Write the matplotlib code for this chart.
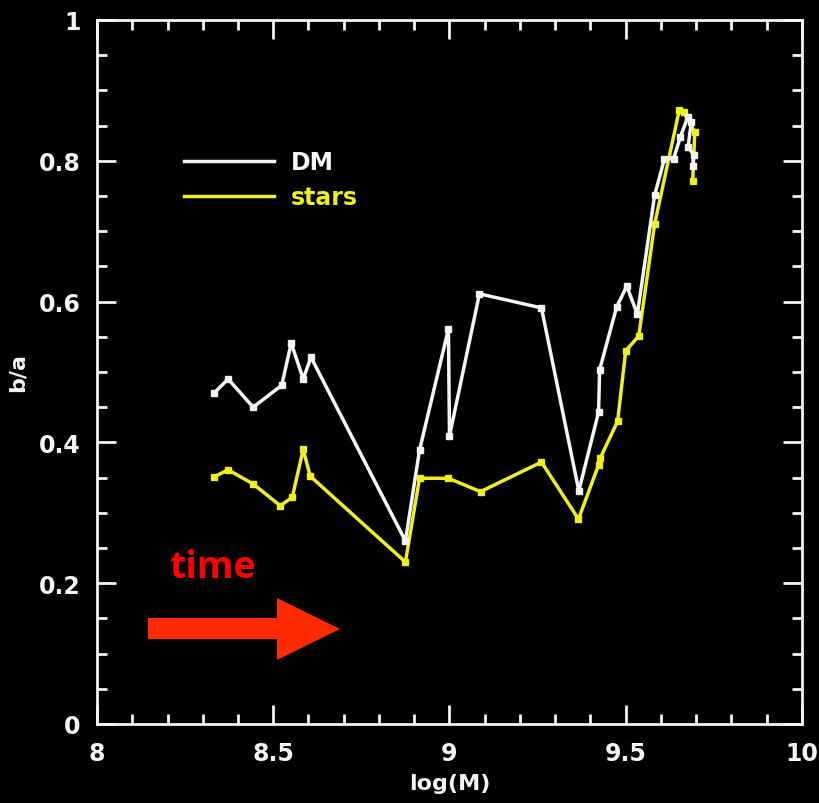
import numpy as np
import matplotlib
matplotlib.use("Agg")
import matplotlib.pyplot as plt
from matplotlib.lines import Line2D
from matplotlib.patches import Polygon
from matplotlib.ticker import MultipleLocator

# axis ratio b/a against log mass, dark matter and stellar component
dm_logm = [8.332, 8.372, 8.443, 8.524, 8.551, 8.585, 8.607, 8.875, 8.915, 8.997,
           9.000, 9.085, 9.261, 9.367, 9.423, 9.426, 9.474, 9.503, 9.533, 9.582,
           9.610, 9.636, 9.655, 9.676, 9.686, 9.677, 9.693, 9.690]
dm_ba = [0.470, 0.490, 0.450, 0.481, 0.541, 0.490, 0.521, 0.260, 0.389, 0.561,
         0.409, 0.611, 0.591, 0.331, 0.443, 0.503, 0.592, 0.622, 0.582, 0.751,
         0.803, 0.803, 0.834, 0.862, 0.855, 0.820, 0.808, 0.793]

stars_logm = [8.332, 8.372, 8.443, 8.520, 8.554, 8.585, 8.605, 8.875, 8.915, 8.997,
              9.088, 9.261, 9.366, 9.423, 9.428, 9.477, 9.500, 9.537, 9.582, 9.652,
              9.664, 9.696, 9.690]
stars_ba = [0.351, 0.361, 0.341, 0.310, 0.322, 0.390, 0.352, 0.230, 0.349, 0.349,
            0.330, 0.372, 0.291, 0.368, 0.378, 0.430, 0.530, 0.551, 0.710, 0.872,
            0.870, 0.841, 0.771]

WHITE = "#f4f4f4"
YELLOW = "#eeee22"

fig = plt.figure(figsize=(8.2, 8.04), dpi=100, facecolor="black")
ax = fig.add_axes([0.1183, 0.0983, 0.8597, 0.8756])
ax.set_facecolor("black")

ax.plot(stars_logm, stars_ba, color=YELLOW, lw=2.5, marker="s", ms=4.5, mec=YELLOW, mfc=YELLOW, zorder=2)
ax.plot(dm_logm, dm_ba, color=WHITE, lw=2.5, marker="s", ms=4.5, mec=WHITE, mfc=WHITE, zorder=3)

ax.set_xlim(8, 10)
ax.set_ylim(0, 1)
ax.xaxis.set_minor_locator(MultipleLocator(0.1))
ax.yaxis.set_minor_locator(MultipleLocator(0.05))
ax.set_xticks([8, 8.5, 9, 9.5, 10])
ax.set_xticklabels(["8", "8.5", "9", "9.5", "10"])
ax.set_yticks([0, 0.2, 0.4, 0.6, 0.8, 1])
ax.set_yticklabels(["0", "0.2", "0.4", "0.6", "0.8", "1"])

for s in ax.spines.values():
    s.set_color(WHITE)
    s.set_linewidth(2)
ax.tick_params(which="both", direction="in", top=True, right=True, color=WHITE,
               labelcolor=WHITE, width=2)
ax.tick_params(which="major", length=14, labelsize=17, pad=12)
ax.tick_params(which="minor", length=7)
for lab in ax.get_xticklabels() + ax.get_yticklabels():
    lab.set_fontweight("bold")

ax.set_xlabel("log(M)", color=WHITE, fontsize=16, fontweight="bold", labelpad=6)
ax.set_ylabel("b/a", color=WHITE, fontsize=16, fontweight="bold", labelpad=8)

handles = [Line2D([], [], color=WHITE, lw=2.5), Line2D([], [], color=YELLOW, lw=2.5)]
leg = ax.legend(handles, ["DM", "stars"], loc="upper left", bbox_to_anchor=(0.093, 0.845),
                frameon=False, handlelength=3.8, handletextpad=0.75, labelspacing=0.45,
                prop={"size": 17, "weight": "bold"})
for txt, col in zip(leg.get_texts(), [WHITE, YELLOW]):
    txt.set_color(col)

# red "time" arrow, sized in pixels
W, H = 820, 804
def fp(x, y):
    return (x / W, 1 - y / H)

arrow = [fp(148, 619), fp(277, 619), fp(277, 599), fp(340, 630), fp(277, 661),
         fp(277, 640), fp(148, 640)]
fig.patches.append(Polygon(arrow, closed=True, transform=fig.transFigure,
                           facecolor="#ff2a00", edgecolor="none"))
fig.text(212 / W, 1 - 568 / H, "time", color="#ff0000", fontsize=27,
         fontweight="bold", family="Open Sans", ha="center", va="center")

fig.savefig("out.png", dpi=100, facecolor="black")
